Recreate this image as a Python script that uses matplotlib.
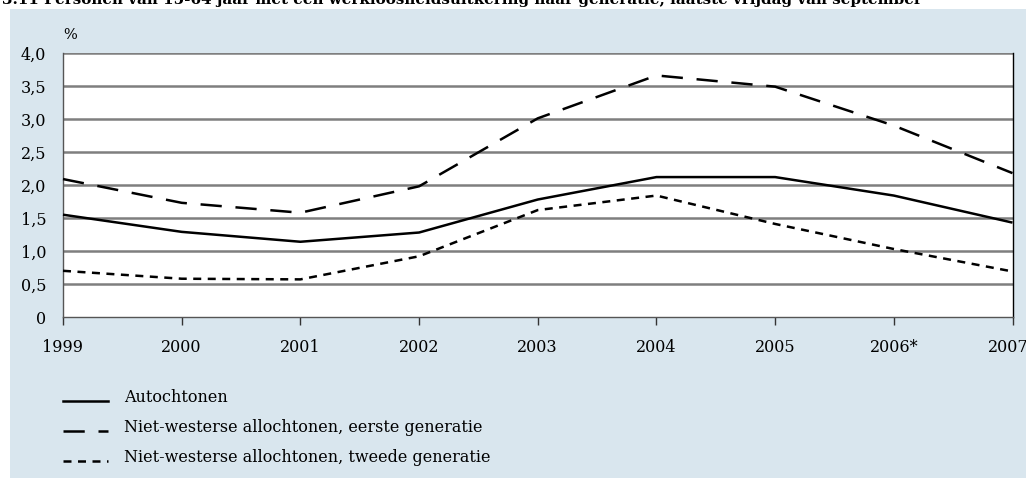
import matplotlib
matplotlib.use("Agg")
import matplotlib.pyplot as plt
from matplotlib.patches import Rectangle
from matplotlib.lines import Line2D

years = ["1999", "2000", "2001", "2002", "2003", "2004", "2005", "2006*", "2007*"]
autochtonen = [1.55, 1.29, 1.14, 1.28, 1.78, 2.12, 2.12, 1.84, 1.43]
eerste_gen = [2.09, 1.73, 1.58, 1.98, 3.01, 3.66, 3.49, 2.90, 2.18]
tweede_gen = [0.70, 0.58, 0.57, 0.92, 1.62, 1.84, 1.41, 1.03, 0.69]
yticks = [0, 0.5, 1.0, 1.5, 2.0, 2.5, 3.0, 3.5, 4.0]
ytick_labels = ["0", "0,5", "1,0", "1,5", "2,0", "2,5", "3,0", "3,5", "4,0"]
labels = ["Autochtonen",
          "Niet-westerse allochtonen, eerste generatie",
          "Niet-westerse allochtonen, tweede generatie"]
title = "3.11 Personen van 15-64 jaar met een werkloosheidsuitkering naar generatie, laatste vrijdag van september"

W, H = 1026, 478
plt.rcParams['font.family'] = ['DejaVu Serif']
fig = plt.figure(figsize=(W / 100, H / 100), dpi=100)
fig.patch.set_facecolor("white")

bg = "#d9e6ee"
fig.patches.append(Rectangle((10 / W, 0), 1 - 10 / W, 1 - 9 / H, transform=fig.transFigure,
                             facecolor=bg, edgecolor="none", zorder=0))

fig.text(2 / W, 1 - 4 / H, title, fontsize=10.9, fontweight="bold", ha="left", va="baseline",
         zorder=5)

ax = fig.add_axes([63 / W, 1 - 317 / H, (1012.5 - 63) / W, (317 - 53) / H])
ax.set_zorder(2)
ax.set_facecolor("white")
x = list(range(len(years)))
styles = [dict(linestyle="-"), dict(linestyle=(0, (8.5, 5.5))), dict(linestyle=(0, (3.2, 2.6)))]
for vals, st in zip([autochtonen, eerste_gen, tweede_gen], styles):
    ax.plot(x, vals, color="black", linewidth=1.8, zorder=3, solid_capstyle="butt",
            dash_capstyle="butt", clip_on=False, **st)

ax.set_xlim(0, len(years) - 1)
ax.set_ylim(0, 4.0)
ax.set_yticks(yticks)
ax.set_yticklabels(ytick_labels)
ax.set_xticks(x)
ax.set_xticklabels(years)
for y in yticks[1:]:
    ax.axhline(y, color="#7f7f7f", linewidth=1.8, zorder=1)
ax.spines["top"].set_visible(False)
ax.spines["left"].set_color("#555555")
ax.spines["bottom"].set_color("#555555")
ax.spines["right"].set_color("black")
for s in ["left", "bottom", "right"]:
    ax.spines[s].set_linewidth(1.0)
ax.tick_params(axis="y", length=0, pad=12, labelsize=11.5)
ax.tick_params(axis="x", length=6, width=1, color="#333333", pad=10, labelsize=11.5)

fig.text(70 / W, 1 - 35 / H, "%", fontsize=10.5, ha="center", va="center", zorder=5)

leg_y = [401, 431, 461]
for ly, lab, st in zip(leg_y, labels, styles):
    fig.lines.append(Line2D([63 / W, 108 / W], [1 - ly / H, 1 - ly / H], transform=fig.transFigure,
                            color="black", linewidth=1.8, dash_capstyle="butt", zorder=5, **st))
    fig.text(124 / W, 1 - (ly - 3) / H, lab, fontsize=11.5, ha="left", va="center", zorder=5)

fig.savefig("out.png", dpi=100, facecolor=fig.get_facecolor())
